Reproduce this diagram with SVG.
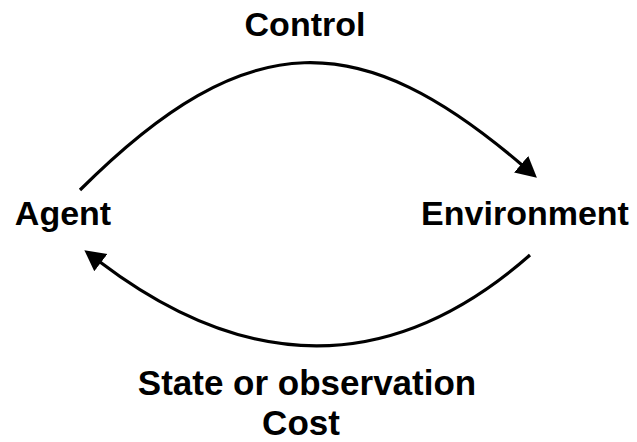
<svg xmlns="http://www.w3.org/2000/svg" width="637" height="442" viewBox="0 0 637 442">
<style>
.lbl{font-family:"Liberation Sans",Arial,sans-serif;font-weight:bold;font-size:34px;fill:#000;text-anchor:middle}
.big{font-size:35px}
.arc{fill:none;stroke:#000;stroke-width:3.2}
</style>
<defs>
<marker id="ah" markerUnits="userSpaceOnUse" markerWidth="22" markerHeight="24" viewBox="0 -11 20 22" refX="1" refY="0" orient="auto">
<path d="M0,-10 L19,0 L0,10 z" fill="#000"/>
</marker>
</defs>
<rect width="637" height="442" fill="#fff"/>
<g id="connectors">
<path class="arc" d="M80,190 C249,21 362,28 522,165" marker-end="url(#ah)"/>
<path class="arc" d="M530,255 C390,378 245,372 100,262" marker-end="url(#ah)"/>
</g>
<g id="agent"><text class="lbl" x="63" y="225">Agent</text></g>
<g id="environment"><text class="lbl" x="525" y="225">Environment</text></g>
<g id="control-label"><text class="lbl" x="305" y="36">Control</text></g>
<g id="state-label"><text class="lbl big" x="307" y="395">State or observation</text><text class="lbl big" x="301" y="435">Cost</text></g>
</svg>
